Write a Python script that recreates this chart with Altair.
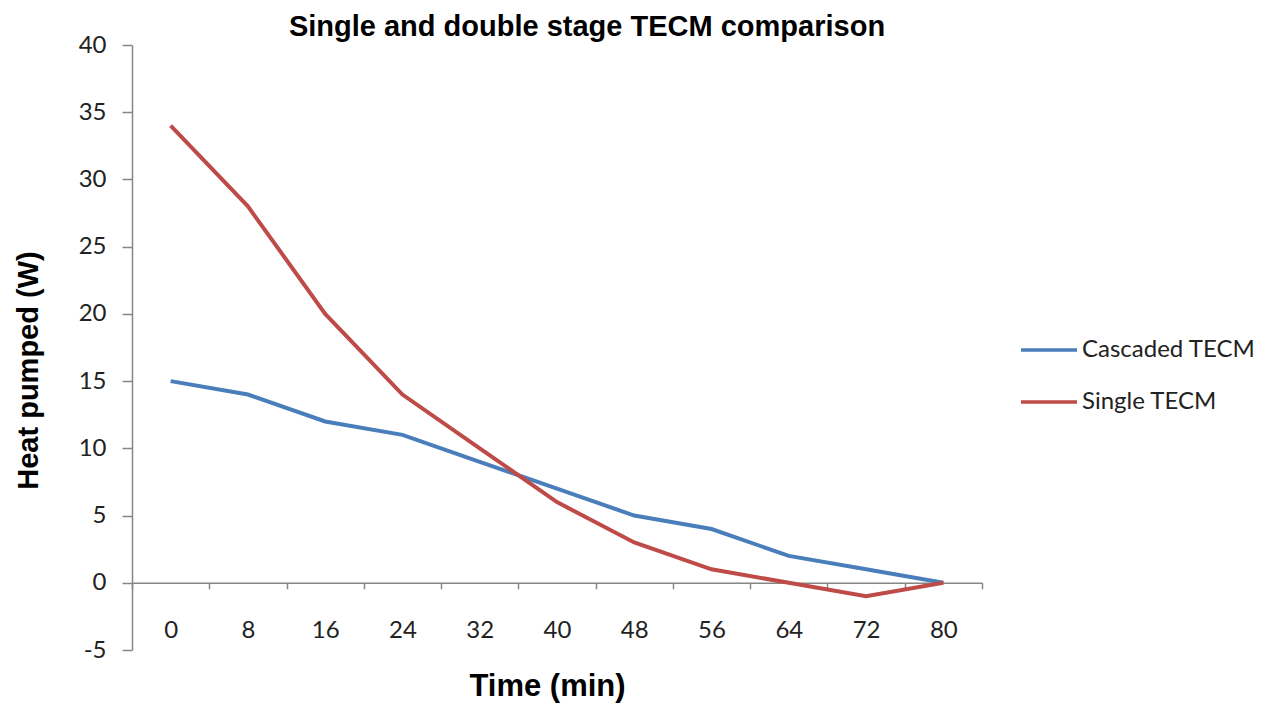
import altair as alt
import pandas as pd

times = ["0", "8", "16", "24", "32", "40", "48", "56", "64", "72", "80"]
cascaded = [15, 14, 12, 11, 9, 7, 5, 4, 2, 1, 0]
single = [34, 28, 20, 14, 10, 6, 3, 1, 0, -1, 0]
series_names = ["Cascaded TECM", "Single TECM"]
series_colors = ["#4A7EBB", "#BE4B48"]
y_ticks = [-5, 0, 5, 10, 15, 20, 25, 30, 35, 40]

rows = []
for name, vals in zip(series_names, [cascaded, single]):
    for i, (t, v) in enumerate(zip(times, vals)):
        rows.append({"time": t, "value": v, "series": name, "order": i})
df = pd.DataFrame(rows)

W, H = 850, 605
y0_offset = -(H * 5 / 45)

chart = alt.Chart(df).mark_line(strokeWidth=4).encode(
    x=alt.X("time:O", sort=times, bandPosition=0.5,
            scale=alt.Scale(type="band", paddingInner=0, paddingOuter=0),
            axis=alt.Axis(title="Time (min)", labelAngle=0, offset=y0_offset,
                          tickBand="extent", tickSize=6, tickColor="#868686",
                          domainColor="#868686", domainWidth=1.5, tickWidth=1.5,
                          labelPadding=30, labelFont="Lato", labelFontSize=24,
                          labelColor="#222222",
                          titleFont="Liberation Sans", titleFontSize=31,
                          titleFontWeight="bold", titleColor="#000000",
                          titleX=415, titleY=104, titleBaseline="middle")),
    y=alt.Y("value:Q",
            scale=alt.Scale(domain=[-5, 40], nice=False, zero=False),
            axis=alt.Axis(title="Heat pumped (W)", values=y_ticks, grid=False,
                          labelExpr="datum.value + ''",
                          tickSize=10, tickColor="#868686", tickWidth=1.5,
                          domainColor="#868686", domainWidth=1.5,
                          labelPadding=16, labelFont="Lato", labelFontSize=24,
                          labelColor="#222222",
                          titleFont="Liberation Sans", titleFontSize=29,
                          titleFontWeight="bold", titleColor="#000000",
                          titleX=-104, titleY=325, titleAngle=-90,
                          titleBaseline="middle")),
    color=alt.Color("series:N",
                    scale=alt.Scale(domain=series_names, range=series_colors),
                    legend=alt.Legend(title=None, orient="none", legendX=887,
                                      legendY=275, symbolType="stroke",
                                      symbolSize=3136, symbolStrokeWidth=3.5,
                                      labelFont="Lato", labelFontSize=24,
                                      labelColor="#222222", labelOffset=3,
                                      labelLimit=400,
                                      rowPadding=10, padding=0)),
    order="order:Q",
).properties(
    width=W, height=H,
    title=alt.TitleParams("Single and double stage TECM comparison",
                          font="Liberation Sans", fontSize=29,
                          fontWeight="bold", color="#000000",
                          anchor="middle", dx=30, dy=19, offset=10),
    autosize=alt.AutoSizeParams(type="none"),
    padding={"left": 124, "top": 37, "right": 275, "bottom": 53},
).configure_view(stroke=None)

chart.save("out.html", embed_options={"renderer": "svg", "actions": False})
